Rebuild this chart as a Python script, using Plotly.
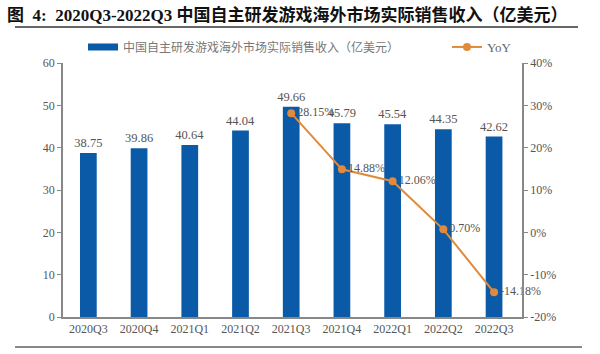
import plotly.graph_objects as go

categories = ["2020Q3", "2020Q4", "2021Q1", "2021Q2", "2021Q3", "2021Q4", "2022Q1", "2022Q2", "2022Q3"]
revenue = [38.75, 39.86, 40.64, 44.04, 49.66, 45.79, 45.54, 44.35, 42.62]
yoy_categories = ["2021Q3", "2021Q4", "2022Q1", "2022Q2", "2022Q3"]
yoy = [28.15, 14.88, 12.06, 0.70, -14.18]
left_ticks = [0, 10, 20, 30, 40, 50, 60]
right_ticks = [-20, -10, 0, 10, 20, 30, 40]

bar_name = "中国自主研发游戏海外市场实际销售收入（亿美元）"
title_text = "图&nbsp;&nbsp;4:&nbsp;&nbsp;2020Q3-2022Q3 中国自主研发游戏海外市场实际销售收入（亿美元）"

serif = "Liberation Serif, Noto Sans CJK SC"
gray = "#555555"
blue = "#0b5aa8"
orange = "#e08a3c"

L, R, T, B = 63, 78, 63, 37
W, H = 600, 354
plot_h = H - T - B
plot_w = W - L - R
def px_x(x):
    return (x - L) / plot_w
def px_y(y):
    return (H - B - y) / plot_h

fig = go.Figure()
fig.add_trace(go.Bar(
    x=categories, y=revenue, name=bar_name, showlegend=False,
    marker=dict(color=blue, line=dict(width=0)),
    width=0.33,
    text=[f"{v:.2f}" for v in revenue], textposition="outside",
    constraintext="none",
    textfont=dict(family=serif, size=12.5, color=gray),
    cliponaxis=False,
))
# legend entry for the bars (wide rectangle like the reference)
fig.add_trace(go.Scatter(
    x=[None], y=[None], name=bar_name, mode="lines",
    line=dict(color=blue, width=7), legend="legend",
))
fig.add_trace(go.Scatter(
    x=yoy_categories, y=yoy, name="YoY", yaxis="y2",
    mode="lines+markers+text",
    line=dict(color=orange, width=2),
    marker=dict(color=orange, size=8),
    text=[f"{v:.2f}%" for v in yoy], textposition="middle right",
    textfont=dict(family=serif, size=12, color=gray),
    cliponaxis=False, legend="legend2",
))

fig.update_layout(
    width=W, height=H,
    margin=dict(l=L, r=R, t=T, b=B),
    plot_bgcolor="white", paper_bgcolor="white",
    font=dict(family=serif, size=12, color=gray),
    showlegend=True,
    legend=dict(orientation="h", x=px_x(83), y=px_y(47), xanchor="left", yanchor="middle",
                font=dict(family="Noto Sans CJK SC", size=12, color="#777777"),
                bgcolor="rgba(0,0,0,0)"),
    legend2=dict(orientation="h", x=px_x(447), y=px_y(47), xanchor="left", yanchor="middle",
                 font=dict(family=serif, size=13, color="#666666"),
                 bgcolor="rgba(0,0,0,0)"),
    xaxis=dict(showline=True, linecolor="#888888", linewidth=1.5, ticks="",
               tickfont=dict(family=serif, size=12, color=gray), showgrid=False),
    yaxis=dict(range=[0, 60], tickvals=left_ticks, showline=True, linecolor="#888888",
               linewidth=1.5, ticks="outside", ticklen=4, tickcolor="#888888",
               showgrid=False, zeroline=False, tickfont=dict(family=serif, size=12, color=gray)),
    yaxis2=dict(range=[-20, 40], tickvals=right_ticks, ticktext=[f"{v}%" for v in right_ticks],
                overlaying="y", side="right", showline=True, linecolor="#888888", linewidth=1.5,
                ticks="outside", ticklen=4, tickcolor="#888888", showgrid=False, zeroline=False,
                tickfont=dict(family=serif, size=12, color=gray)),
    annotations=[dict(text="<b>" + title_text + "</b>", x=px_x(5), y=px_y(15), xref="paper", yref="paper",
                      showarrow=False, xanchor="left", yanchor="middle",
                      font=dict(family="Liberation Serif, Noto Sans CJK SC", size=17, color="#111111"))],
    shapes=[
        dict(type="line", xref="paper", yref="paper", x0=px_x(15), x1=px_x(578), y0=px_y(27), y1=px_y(27),
             line=dict(color="#333333", width=1.5)),
        dict(type="line", xref="paper", yref="paper", x0=px_x(15), x1=px_x(582), y0=px_y(347), y1=px_y(347),
             line=dict(color="#888888", width=2)),
    ],
)

fig.write_html("out.html")
